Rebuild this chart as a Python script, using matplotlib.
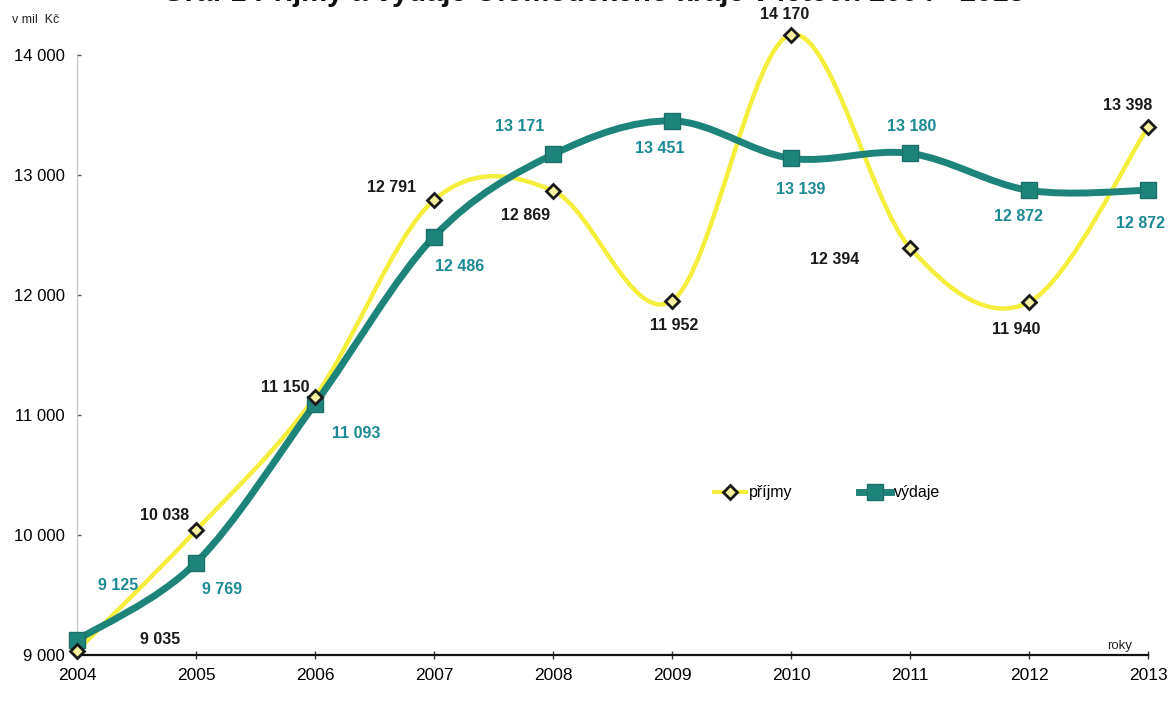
import numpy as np
import matplotlib
matplotlib.use("Agg")
import matplotlib.pyplot as plt
from matplotlib.path import Path
from matplotlib.patches import PathPatch
from matplotlib.lines import Line2D

years = [2004, 2005, 2006, 2007, 2008, 2009, 2010, 2011, 2012, 2013]
prijmy = [9035, 10038, 11150, 12791, 12869, 11952, 14170, 12394, 11940, 13398]
vydaje = [9125, 9769, 11093, 12486, 13171, 13451, 13139, 13180, 12872, 12872]
yticks = [9000, 10000, 11000, 12000, 13000, 14000]
ytick_labels = ["9 000", "10 000", "11 000", "12 000", "13 000", "14 000"]

# label offsets in pixels (dx, dy up)
off_p = [(83, 11), (-31, 15), (-30, 10), (-42, 13), (-27, -25), (2, -25),
         (-6, 20), (-75, -12), (-13, -27), (-20, 22)]
off_v = [(41, 55), (26, -27), (41, -30), (26, -30), (-33, 28), (-12, -28),
         (10, -31), (2, 27), (-10, -26), (-8, -33)]

YELLOW = "#f4ef3c"
TEAL = "#1e8479"
TEAL_TXT = "#1c8a94"

fig = plt.figure(figsize=(11.68, 7.04), dpi=100)
ax = fig.add_axes([77/1168, 1-655/704, (1148-77)/1168, 600/704])
ax.set_xlim(2004, 2013)
ax.set_ylim(9000, 14000)


def smooth_path(xs, ys):
    xs = np.asarray(xs, float)
    ys = np.asarray(ys, float)
    n = len(xs)
    verts = [(xs[0], ys[0])]
    codes = [Path.MOVETO]
    for i in range(n - 1):
        x0, y0 = xs[max(i - 1, 0)], ys[max(i - 1, 0)]
        x1, y1 = xs[i], ys[i]
        x2, y2 = xs[i + 1], ys[i + 1]
        x3, y3 = xs[min(i + 2, n - 1)], ys[min(i + 2, n - 1)]
        c1 = (x1 + (x2 - x0) / 6, y1 + (y2 - y0) / 6)
        c2 = (x2 - (x3 - x1) / 6, y2 - (y3 - y1) / 6)
        verts += [c1, c2, (x2, y2)]
        codes += [Path.CURVE4] * 3
    return Path(verts, codes)


ax.add_patch(PathPatch(smooth_path(years, prijmy), fill=False, edgecolor=YELLOW,
                       lw=3.2, clip_on=False, zorder=2, capstyle="round"))
ax.add_patch(PathPatch(smooth_path(years, vydaje), fill=False, edgecolor=TEAL,
                       lw=5, clip_on=False, zorder=3, capstyle="round"))
ax.plot(years, vydaje, ls="none", marker="s", ms=12, mfc=TEAL, mec="#1a7068",
        mew=1, clip_on=False, zorder=4)
ax.plot(years, prijmy, ls="none", marker="D", ms=7.5, mfc="#f7f3a0", mec="#1a1a1a",
        mew=2, clip_on=False, zorder=5)


def fmt(v):
    return f"{v:,}".replace(",", " ")


for x, v, (dx, dy) in zip(years, prijmy, off_p):
    ax.annotate(fmt(v), (x, v), xytext=(dx, dy), textcoords="offset pixels",
                ha="center", va="center", fontsize=11.5, color="#1a1a1a",
                fontfamily="Liberation Sans", fontweight="bold", zorder=6,
                annotation_clip=False)
for x, v, (dx, dy) in zip(years, vydaje, off_v):
    ax.annotate(fmt(v), (x, v), xytext=(dx, dy), textcoords="offset pixels",
                ha="center", va="center", fontsize=11.5, color=TEAL_TXT,
                fontfamily="Liberation Sans", fontweight="bold", zorder=6,
                annotation_clip=False)

for s in ["top", "right"]:
    ax.spines[s].set_visible(False)
ax.spines["left"].set_color("#c8c8d0")
ax.spines["left"].set_linestyle((0, (2, 1)))
ax.spines["left"].set_linewidth(1)
ax.spines["bottom"].set_color("#111111")
ax.spines["bottom"].set_linewidth(1.6)

ax.set_xticks(years)
ax.set_xticklabels([str(y) for y in years], fontsize=12.5, fontfamily="Liberation Sans")
ax.set_yticks(yticks)
ax.set_yticklabels(ytick_labels, fontsize=12, fontfamily="Liberation Sans")
ax.tick_params(axis="x", direction="inout", length=6, width=1, pad=6, color="#333333")
ax.tick_params(axis="y", direction="in", length=3, width=1, pad=9, color="#555555")

fig.text(12/1168, 1-20/704, "v mil  Kč", fontsize=9, fontfamily="Liberation Sans",
         ha="left", va="center", color="#222222")
fig.text(1132/1168, 1-646/704, "roky", fontsize=9.5, fontfamily="Liberation Sans",
         ha="right", va="center", color="#222222")

# partially clipped title at the very top
fig.text(1025/1168, 1+7/704, "Graf 1 Příjmy a výdaje Olomouckého kraje v letech 2004 - 2013",
         fontsize=21, fontweight="bold", fontfamily="Liberation Sans",
         ha="right", va="center", color="#111111")

handles = [
    Line2D([], [], color=YELLOW, lw=3, marker="D", ms=7, mfc="#f7f3a0", mec="#1a1a1a", mew=2),
    Line2D([], [], color=TEAL, lw=5, marker="s", ms=12, mfc=TEAL, mec="#1a7068"),
]
leg = fig.legend(handles, ["příjmy", "výdaje"], ncol=2, frameon=False,
                 loc="center", bbox_to_anchor=(827/1168, 1-493/704),
                 prop={"family": "Liberation Sans", "size": 11.5},
                 handlelength=2.0, handletextpad=0.15, columnspacing=4.2)

fig.savefig("out.png", dpi=100, facecolor="white")
